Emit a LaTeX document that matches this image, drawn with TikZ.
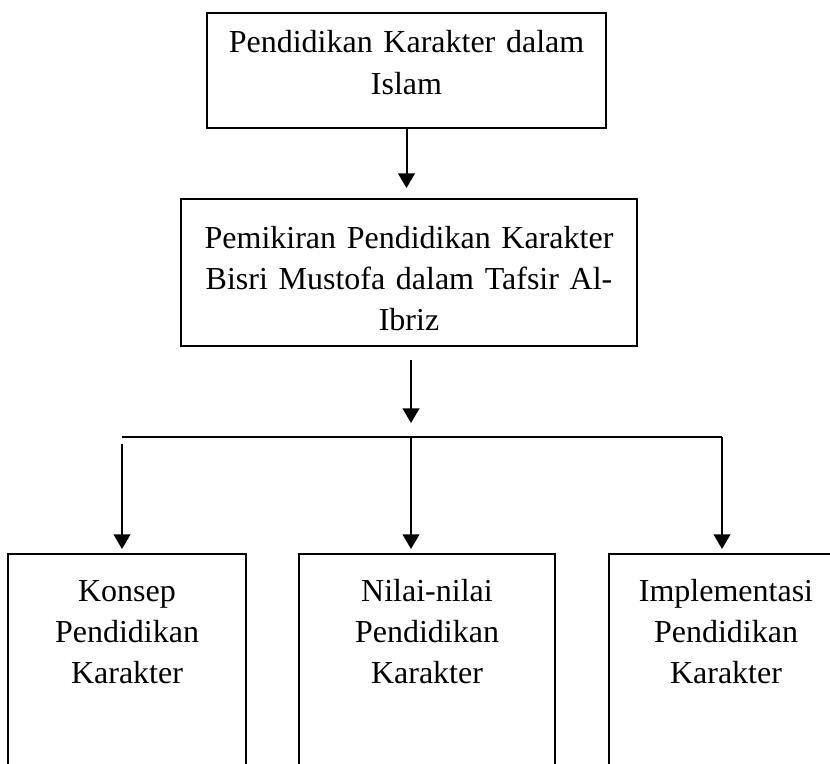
\documentclass[tikz,border=0pt]{standalone}
\usepackage{fontspec}
\setmainfont{Liberation Serif}
\usepackage{tikz}
\usetikzlibrary{arrows.meta,positioning,calc}

\begin{document}
\begin{tikzpicture}[x=0.75pt,y=-0.75pt,
    kotak/.style={draw,black,line width=1.5pt,inner sep=0pt,anchor=north,align=center,
        font=\fontsize{24}{31}\selectfont},
    panah/.style={-{Triangle[length=11pt,width=12.5pt]},black,line width=1.5pt}]

    \clip (0,0) rectangle (830,763);

    \node[kotak,text width=299.25pt,text height=30pt,text depth=56.25pt] (islam) at (406.5,12)
        {Pendidikan Karakter dalam\\Islam};

    \node[kotak,text width=342pt,text height=36.75pt,text depth=73.5pt] (pemikiran) at (409,198)
        {Pemikiran Pendidikan Karakter\\Bisri Mustofa dalam Tafsir Al-\\Ibriz};

    \node[kotak,text width=178.5pt,text height=35.25pt,text depth=150pt] (konsep) at (127,553)
        {Konsep\\Pendidikan\\Karakter};
    \node[kotak,text width=192pt,text height=35.25pt,text depth=150pt] (nilai) at (427,553)
        {Nilai-nilai\\Pendidikan\\Karakter};
    \node[kotak,text width=175.5pt,text height=35.25pt,text depth=150pt] (implementasi) at (726,553)
        {Implementasi\\Pendidikan\\Karakter};

    \coordinate (cabangkiri) at (122,437);
    \coordinate (cabangtengah) at (411,437);
    \coordinate (cabangkanan) at (722,437);

    \draw[panah,shorten >=7.5pt] (islam.south) -- (islam.south |- pemikiran.north);
    \draw[panah,shorten <=9.75pt,shorten >=10.5pt] (pemikiran.south -| cabangtengah) -- (cabangtengah);

    \draw[black,line width=1.5pt] (cabangkiri) -- (cabangkanan);

    \draw[panah,shorten >=3pt] ([yshift=-5.25pt]cabangkiri) -- (cabangkiri |- konsep.north);
    \draw[panah,shorten >=3pt] (cabangtengah) -- (cabangtengah |- nilai.north);
    \draw[panah,shorten >=3pt] (cabangkanan) -- (cabangkanan |- implementasi.north);

\end{tikzpicture}
\end{document}
